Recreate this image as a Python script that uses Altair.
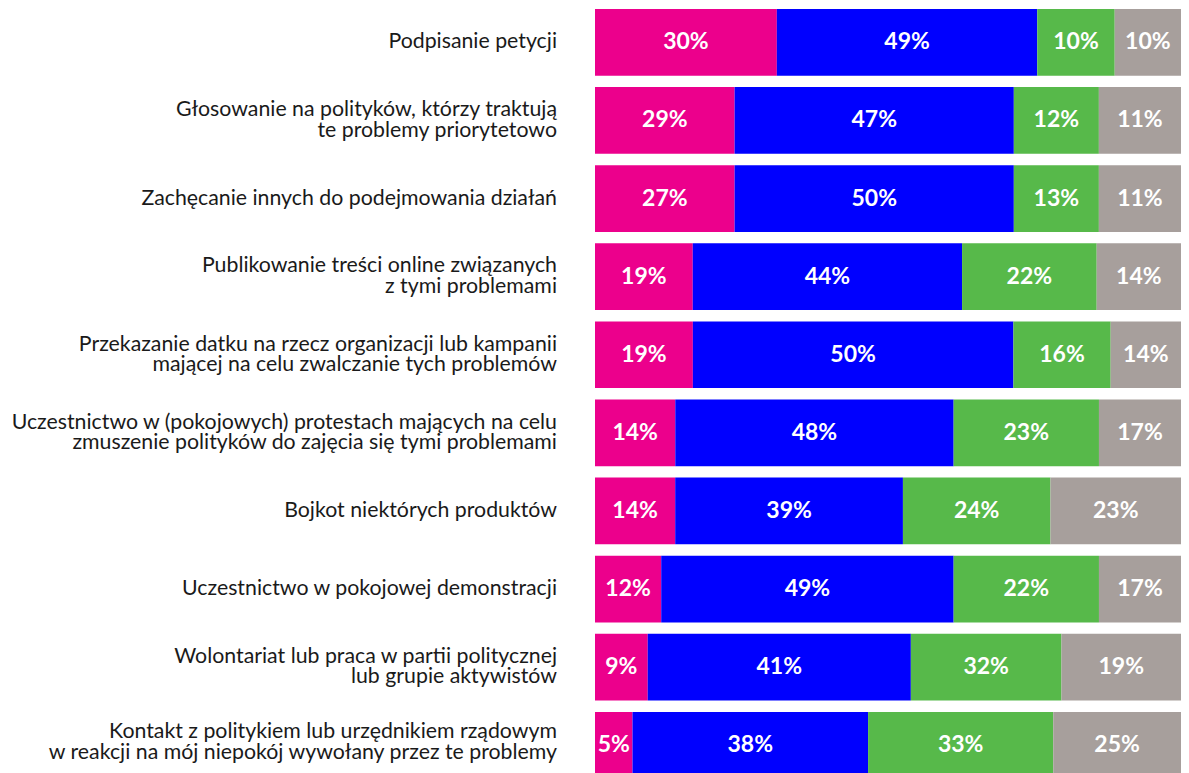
import altair as alt
import pandas as pd

categories = [
    "Podpisanie petycji",
    "Głosowanie na polityków, którzy traktują\nte problemy priorytetowo",
    "Zachęcanie innych do podejmowania działań",
    "Publikowanie treści online związanych\nz tymi problemami",
    "Przekazanie datku na rzecz organizacji lub kampanii\nmającej na celu zwalczanie tych problemów",
    "Uczestnictwo w (pokojowych) protestach mających na celu\nzmuszenie polityków do zajęcia się tymi problemami",
    "Bojkot niektórych produktów",
    "Uczestnictwo w pokojowej demonstracji",
    "Wolontariat lub praca w partii politycznej\nlub grupie aktywistów",
    "Kontakt z politykiem lub urzędnikiem rządowym\nw reakcji na mój niepokój wywołany przez te problemy",
]

series = ["s1", "s2", "s3", "s4"]
colors = ["#EC008C", "#0000FF", "#57B94A", "#A79F9C"]

# segment lengths as drawn (share of bar)
bar_pink = [31.0, 23.8, 23.8, 16.7, 16.7, 13.7, 13.7, 11.3, 9.0, 6.4]
bar_blue = [44.4, 47.6, 47.6, 46.0, 54.7, 47.5, 38.9, 49.9, 44.9, 40.2]
bar_green = [13.2, 14.5, 14.5, 23.0, 16.6, 24.8, 25.2, 24.8, 25.7, 31.6]
bar_gray = [11.3, 14.0, 14.0, 14.4, 12.0, 14.0, 22.3, 14.0, 20.4, 21.8]

# printed percentages
label_pink = [30, 29, 27, 19, 19, 14, 14, 12, 9, 5]
label_blue = [49, 47, 50, 44, 50, 48, 39, 49, 41, 38]
label_green = [10, 12, 13, 22, 16, 23, 24, 22, 32, 33]
label_gray = [10, 11, 11, 14, 14, 17, 23, 17, 19, 25]

bars_all = [bar_pink, bar_blue, bar_green, bar_gray]
labels_all = [label_pink, label_blue, label_green, label_gray]

rows = []
for i, cat in enumerate(categories):
    for k, s in enumerate(series):
        rows.append({
            "i": i,
            "cat": cat,
            "series": s,
            "order": k,
            "value": bars_all[k][i],
            "label": f"{labels_all[k][i]}%",
        })
df = pd.DataFrame(rows)
cat_df = pd.DataFrame({
    "i": list(range(len(categories))),
    "cat": categories,
    "nl": [c.count("\n") + 1 for c in categories],
})

Y_MIN, Y_MAX = -0.44, 9.355
HALF = 0.427
xscale = alt.Scale(domain=[0, 1], nice=False, zero=False)
yscale = alt.Scale(domain=[Y_MIN, Y_MAX], reverse=True, nice=False, zero=False)

base = alt.Chart(df).transform_stack(
    stack="value",
    groupby=["i"],
    as_=["x0", "x1"],
    offset="normalize",
    sort=[alt.SortField("order", order="ascending")],
)

bars = base.transform_calculate(
    lo=f"datum.i - {HALF}", hi=f"datum.i + {HALF}"
).mark_rect(clip=True).encode(
    x=alt.X("x0:Q", scale=xscale, axis=None),
    x2="x1:Q",
    y=alt.Y("lo:Q", scale=yscale, axis=None),
    y2="hi:Q",
    color=alt.Color("series:N", scale=alt.Scale(domain=series, range=colors), legend=None),
)

pct = base.transform_calculate(
    xm="(datum.x0 + datum.x1) / 2"
).mark_text(
    font="Lato", fontWeight="bold", fontSize=23, color="white", baseline="middle", align="center"
).encode(
    x=alt.X("xm:Q", scale=xscale, axis=None),
    y=alt.Y("i:Q", scale=yscale, axis=None),
    text="label:N",
)

cat_style = dict(
    align="right", baseline="middle", font="Lato", fontSize=21.3,
    lineBreak="\n", lineHeight=20.5, color="#1a1a1a"
)

# category labels centred on the visible part of each bar
cat_base = alt.Chart(cat_df).transform_calculate(
    yc=f"(max(datum.i - {HALF}, {Y_MIN}) + min(datum.i + {HALF}, {Y_MAX})) / 2"
)

cats1 = cat_base.transform_filter("datum.nl == 1").mark_text(**cat_style).encode(
    x=alt.value(-38),
    y=alt.Y("yc:Q", scale=yscale, axis=None),
    text="cat:N",
)

cats2 = cat_base.transform_filter("datum.nl == 2").mark_text(dy=-10.25, **cat_style).encode(
    x=alt.value(-38),
    y=alt.Y("yc:Q", scale=yscale, axis=None),
    text="cat:N",
)

chart = alt.layer(bars, pct, cats1, cats2).properties(
    width=586,
    height=765,
    padding={"left": 587, "top": 0, "right": 0, "bottom": 0},
    autosize="none",
).configure_view(stroke=None)

chart.save("out.html", embed_options={"renderer": "svg", "actions": False})
